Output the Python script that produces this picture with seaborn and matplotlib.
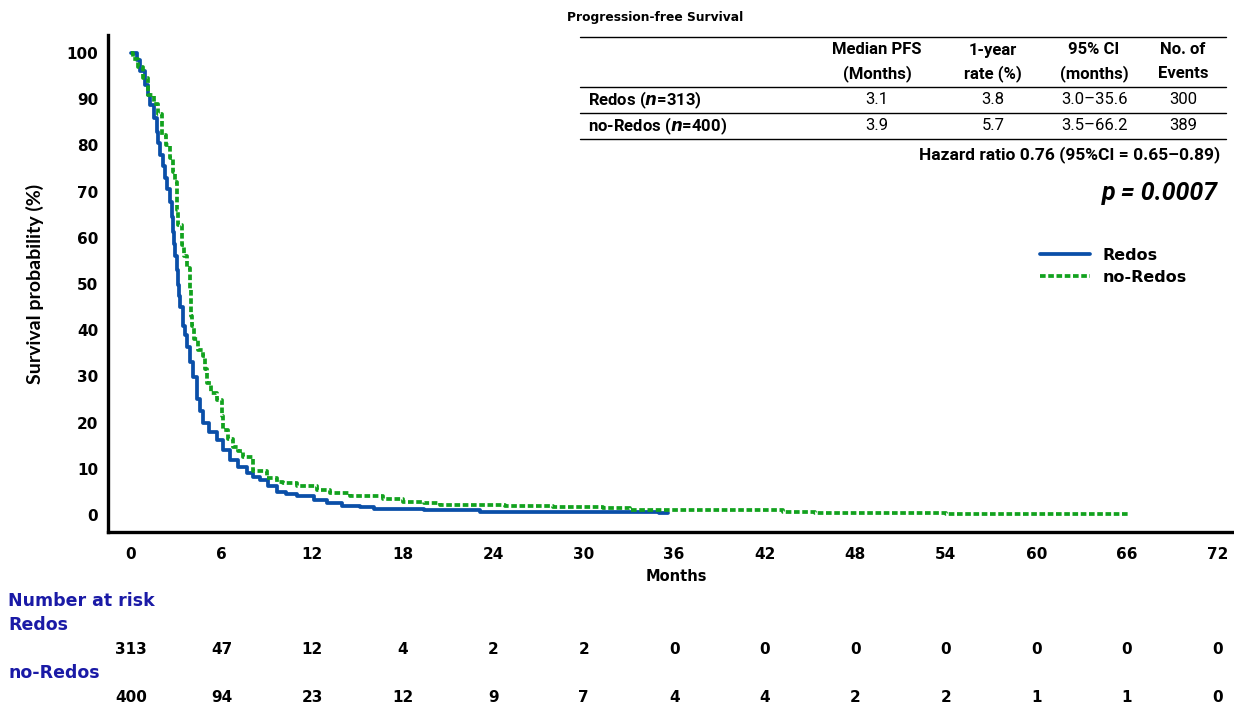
import numpy as np
import pandas as pd
import matplotlib
matplotlib.use("Agg")
import matplotlib.pyplot as plt
import matplotlib.transforms as mtransforms
from matplotlib.lines import Line2D
from matplotlib.ticker import MultipleLocator
import seaborn as sns

# ---------------- data ----------------
redos_t = [0, 0.4, 0.6, 0.93, 1.1, 1.26, 1.5, 1.7, 1.8, 1.92, 2.1, 2.25, 2.4, 2.59, 2.7, 2.8,
           2.86, 2.92, 3.03, 3.1, 3.17, 3.25, 3.45, 3.55, 3.7, 3.9, 4.13, 4.4, 4.6, 4.8, 5.2,
           5.68, 6.1, 6.56, 7.1, 7.67, 8.1, 8.55, 9.1, 9.66, 10.3, 10.99, 12.1, 13.0, 14.0,
           15.2, 16.1, 19.4, 23.1, 35.0, 35.6]
redos_s = [100, 98.5, 96, 93, 91, 88.7, 86, 83, 80.5, 78, 75.5, 73, 70.5, 67.7, 64.5, 61.3,
           58.7, 56, 53, 49.8, 47.5, 45, 41, 39, 36.4, 33, 29.9, 25, 22.5, 19.8, 18,
           16.2, 14, 11.9, 10.3, 9.0, 8.2, 7.6, 6.3, 5.0, 4.5, 4.0, 3.2, 2.5, 2.0,
           1.7, 1.2, 0.96, 0.64, 0.32, 0.32]

noredos_t = [0, 0.15, 0.5, 0.82, 1.15, 1.5, 1.81, 2.03, 2.3, 2.59, 2.8, 2.9, 3.03, 3.08, 3.14,
             3.36, 3.5, 3.69, 3.91, 3.96, 4.0, 4.02, 4.2, 4.46, 4.79, 4.9, 5.02, 5.3, 5.68,
             6.01, 6.06, 6.12, 6.4, 6.78, 7.1, 7.45, 8.1, 9.0, 9.66, 10.1, 11.0, 12.3, 13.2,
             14.5, 16.7, 18.05, 19.4, 20.5, 24.8, 28.0, 31.3, 33.1, 43.2, 45.3, 54.0, 66.2]
noredos_s = [100, 98.8, 97, 94.5, 90.9, 89, 86.9, 82.3, 80, 77.2, 74.3, 72, 69.3, 66, 62.8,
             58.4, 56, 53.4, 48.7, 45, 43, 40.8, 38, 35.7, 34.3, 31.5, 28.5, 26.5, 24.9,
             24.2, 21.5, 18.4, 16.5, 14.8, 13.8, 12.6, 9.4, 7.9, 7.2, 6.9, 6.3, 5.4, 4.7,
             4.1, 3.5, 2.9, 2.5, 2.2, 1.95, 1.66, 1.45, 1.08, 0.72, 0.5, 0.25, 0.25]

groups = ["Redos", "no-Redos"]
risk_times = [0, 6, 12, 18, 24, 30, 36, 42, 48, 54, 60, 66, 72]
redos_risk = [313, 47, 12, 4, 2, 2, 0, 0, 0, 0, 0, 0, 0]
noredos_risk = [400, 94, 23, 12, 9, 7, 4, 4, 2, 2, 1, 1, 0]

table_cols = [("Median PFS", "(Months)"), ("1-year", "rate (%)"),
              ("95% CI", "(months)"), ("No. of", "Events")]
table_rows = [("Redos", "313", ["3.1", "3.8", "3.0\u201335.6", "300"]),
              ("no-Redos", "400", ["3.9", "5.7", "3.5\u201366.2", "389"])]
hr_text = "Hazard ratio 0.76 (95%CI = 0.65\u20130.89)"
p_text = "p = 0.0007"

df = pd.concat([
    pd.DataFrame({"Months": redos_t, "Survival": redos_s, "Group": groups[0]}),
    pd.DataFrame({"Months": noredos_t, "Survival": noredos_s, "Group": groups[1]}),
], ignore_index=True)

# ---------------- style ----------------
sns.set_style("white")
plt.rcParams["font.family"] = ["DejaVu Sans"]
for k in ["text.color", "axes.labelcolor", "xtick.color", "ytick.color"]:
    plt.rcParams[k] = "black"

W, H = 1234, 705
def fx(px):
    return px / W
def fy(py):
    return 1 - py / H

fig = plt.figure(figsize=(W / 100, H / 100), dpi=100)
ax = fig.add_axes([fx(108), fy(532), fx(1126), 497 / H])

blue = "#0a4fa8"
green = "#12a21e"
sns.lineplot(data=df, x="Months", y="Survival", hue="Group", style="Group",
             palette={"Redos": blue, "no-Redos": green},
             dashes={"Redos": "", "no-Redos": (1.5, 0.7)},
             drawstyle="steps-post", linewidth=2.7, estimator=None, ax=ax)

ax.set_xlim(-1.52, 73.1)
ax.set_ylim(-3.7, 103.9)
for s in ["top", "right"]:
    ax.spines[s].set_visible(False)
for s in ["left", "bottom"]:
    ax.spines[s].set_linewidth(2.4)
    ax.spines[s].set_color("black")

ax.set_xticks(risk_times)
ax.xaxis.set_minor_locator(MultipleLocator(3))
ax.set_yticks(range(0, 101, 10))
ax.yaxis.set_minor_locator(MultipleLocator(5))
ax.tick_params(axis="y", which="major", direction="in", length=14.5, width=1.6,
               color="#333333", pad=7, labelsize=11, labelcolor="black")
ax.tick_params(axis="y", which="minor", direction="in", length=6.5, width=1.4,
               color="#333333")
ax.tick_params(axis="x", which="major", direction="in", length=9, width=1.6,
               color="#333333", pad=11, labelsize=11, labelcolor="black")
ax.tick_params(axis="x", which="minor", direction="in", length=5, width=1.4,
               color="#333333")
for lab in ax.get_xticklabels() + ax.get_yticklabels():
    lab.set_fontweight("bold")

ax.set_xlabel("Months", fontsize=10.5, fontweight="bold")
ax.xaxis.set_label_coords((676 - 108) / 1126, (532 - 569) / 497)
ax.set_ylabel("Survival probability (%)", fontsize=14, fontweight="bold",
              family=["Lato", "DejaVu Sans"])
ax.yaxis.set_label_coords((35 - 108) / 1126, 0.5)
ax.yaxis.label.set_va("center")

# legend
handles, labels = ax.get_legend_handles_labels()
if ax.get_legend() is not None:
    ax.get_legend().remove()
fig.legend(handles, labels, loc="upper left", bbox_to_anchor=(fx(1040), fy(248)),
           frameon=False, handlelength=3.1, handletextpad=0.8, labelspacing=0.42,
           borderpad=0, borderaxespad=0, prop={"weight": "bold", "size": 11.5})

# number at risk
navy = "#1a1aa6"
trans = mtransforms.blended_transform_factory(ax.transData, fig.transFigure)
for txt, yy in [("Number at risk", 601), ("Redos", 625), ("no-Redos", 673)]:
    fig.text(fx(8), fy(yy), txt, color=navy, fontsize=12.5, fontweight="bold",
             va="center", ha="left")
for t, n in zip(risk_times, redos_risk):
    ax.text(t, fy(649), str(n), transform=trans, ha="center", va="center",
            fontsize=11, fontweight="bold")
for t, n in zip(risk_times, noredos_risk):
    ax.text(t, fy(697), str(n), transform=trans, ha="center", va="center",
            fontsize=11, fontweight="bold")

# summary table
tfont = ["Roboto", "DejaVu Sans"]
fig.text(fx(567), fy(18), "Progression-free Survival", fontsize=8.8, fontweight="bold",
         va="center", ha="left")
col_x = [877, 993, 1094, 1183]
for (h1, h2), cx in zip(table_cols, col_x):
    fig.text(fx(cx), fy(50), h1, fontsize=12, fontweight="bold", family=tfont,
             ha="center", va="center")
    fig.text(fx(cx), fy(74), h2, fontsize=12, fontweight="bold", family=tfont,
             ha="center", va="center")
for (name, n, vals), ry in zip(table_rows, [100, 126]):
    fig.text(fx(588), fy(ry), name + " ($\\mathbfit{n}$=" + n + ")", fontsize=12,
             fontweight="bold", family=tfont, ha="left", va="center")
    for v, cx in zip(vals, col_x):
        fig.text(fx(cx), fy(ry), v, fontsize=12, family=tfont, ha="center", va="center")
for ly in [37, 87, 113, 139]:
    fig.add_artist(Line2D([fx(580), fx(1226)], [fy(ly), fy(ly)], color="black",
                          linewidth=1.0, transform=fig.transFigure))
fig.text(fx(1220), fy(155), hr_text, fontsize=12.5, fontweight="bold", family=tfont,
         ha="right", va="center")
fig.text(fx(1218), fy(193), p_text, fontsize=18, fontweight="bold", style="italic",
         family=tfont, ha="right", va="center")

fig.savefig("out.png", dpi=100)
